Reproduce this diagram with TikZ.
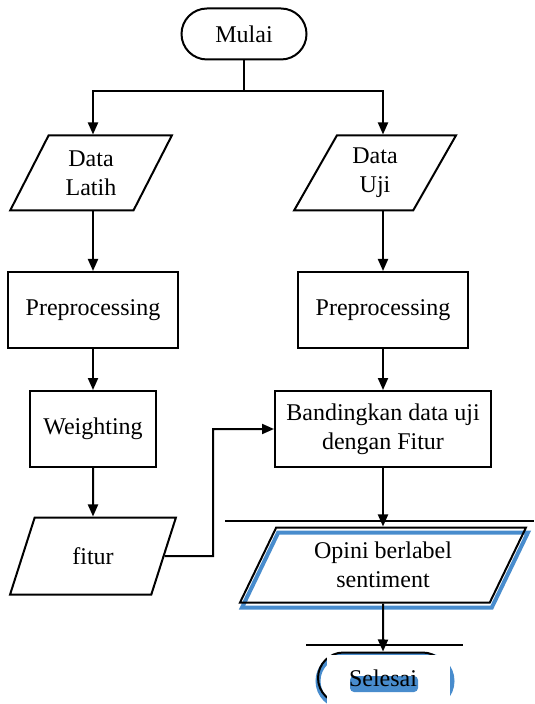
\documentclass[tikz,border=0pt]{standalone}
\usepackage{fontspec}
\setmainfont{Liberation Serif}
\usetikzlibrary{shapes.geometric,shapes.misc,arrows.meta,calc}
\definecolor{glowblue}{RGB}{72,140,205}

\begin{document}
\begin{tikzpicture}[x=0.5pt, y=-0.5pt, >={Triangle[width=5pt,length=6pt]},
  every node/.style={font=\fontsize{12}{14.5}\selectfont, align=center, inner sep=0pt},
  terminal/.style={draw, line width=1pt, rounded rectangle, minimum width=62.5pt, minimum height=25.5pt},
  process/.style={draw, line width=1pt, rectangle, minimum height=38pt},
  io/.style={draw, line width=1pt, trapezium, trapezium left angle=63, trapezium right angle=117,
    trapezium stretches=true, minimum height=37.5pt},
  link/.style={->, line width=1pt}]
  \useasboundingbox (0,0) rectangle (534,704);

  % Start
  \node[terminal] (mulai) at (244,34) {Mulai};
  \coordinate (split) at (244,91);

  % Left branch: training data
  \node[io, minimum width=81pt] (latih) at (91,173) {Data\\Latih};
  \node[process, minimum width=85pt] (prepL) at (93,310) {Preprocessing};
  \node[process, minimum width=63pt] (weight) at (93,429) {Weighting};
  \node[io, minimum width=83pt, minimum height=38.5pt] (fitur) at (93,556) {fitur};
  \coordinate (bendF) at (213,556);

  % Right branch: test data
  \node[io, minimum width=81pt] (uji) at (375,173) {Data\\Uji};
  \node[process, minimum width=85pt] (prepR) at (383,310) {Preprocessing};
  \node[process, minimum width=108pt] (banding) at (383,429) {Bandingkan data uji\\dengan Fitur};

  % Output with blue glow
  \node[io, draw=glowblue, line width=2pt, minimum width=143.5pt] (opiniglow) at (385,570)
    {\phantom{Opini berlabel}\\\phantom{sentiment}};
  \node[io, minimum width=143.5pt] (opini) at (383,565) {Opini berlabel\\sentiment};

  % End (partly covered)
  \node[terminal, draw=glowblue, line width=2.5pt, minimum width=67pt] (selesaiglow) at (385,681)
    {\phantom{Selesai}};
  \node[terminal, minimum width=65pt] (selesai) at (383,678) {\phantom{Selesai}};
  \fill[white] (327,655) rectangle (450,704);
  \fill[glowblue, rounded corners=2pt] (350,676) rectangle (418,692);
  \node (selesaitext) at (selesai) {Selesai};

  % Stray rules
  \draw[line width=1pt] (225,521) -- (534,521);
  \draw[line width=1pt] (306,645) -- (463,645);

  % Connectors
  \draw[line width=1pt] (mulai.south) -- (split);
  \draw[link] (split) -| (prepL.north |- latih.north);
  \draw[link] (split) -| (prepR.north |- uji.north);
  \draw[link] (prepL.north |- latih.south) -- (prepL.north);
  \draw[link] (prepR.north |- uji.south) -- (prepR.north);
  \draw[link] (prepL) -- (weight);
  \draw[link] (prepR) -- (banding);
  \draw[link] (weight) -- (fitur);
  \draw[link] (fitur.east) -- (bendF) |- (banding.west);
  \draw[link] (banding) -- (opini);
  \draw[link] (opini) -- (selesai);
\end{tikzpicture}
\end{document}
